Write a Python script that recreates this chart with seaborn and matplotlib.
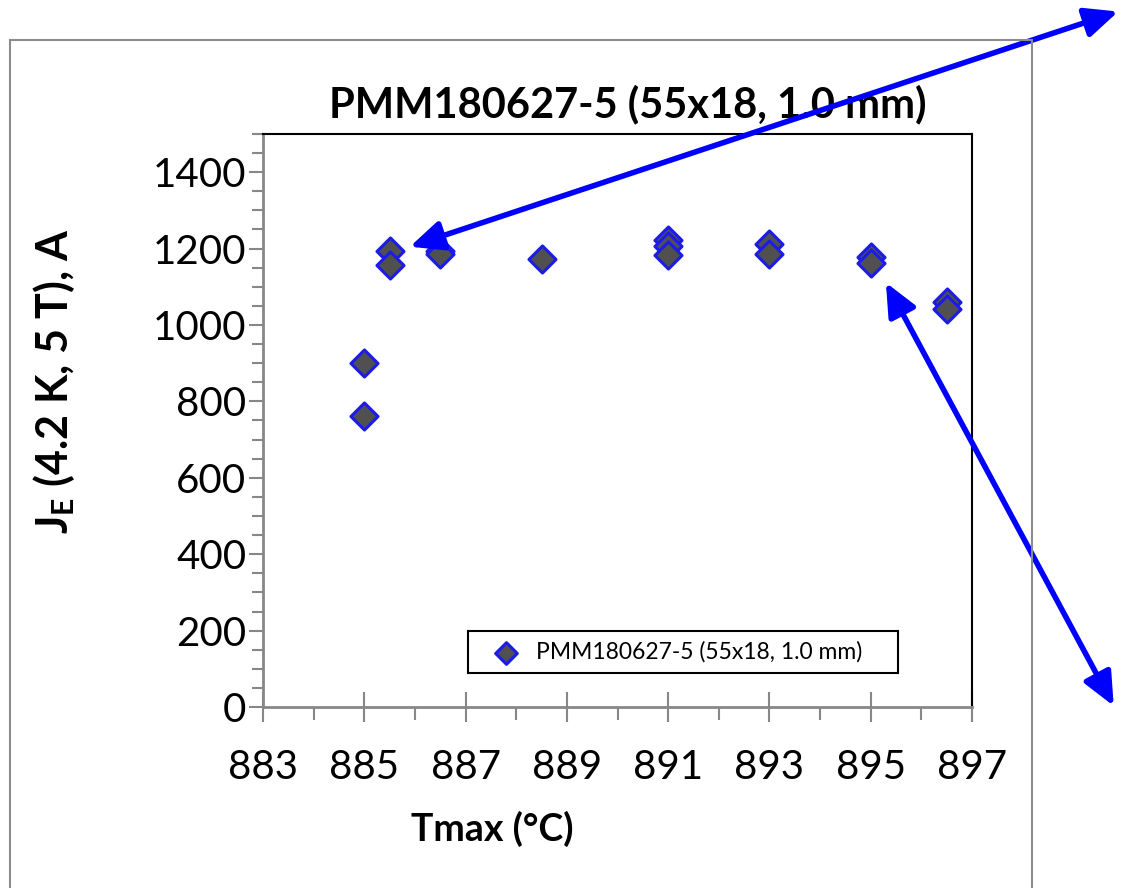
import matplotlib
matplotlib.use('Agg')
import matplotlib.pyplot as plt
import seaborn as sns
import pandas as pd
from matplotlib.ticker import MultipleLocator
from matplotlib.patches import Rectangle

# ---- data ----
tmax = [885, 885, 885.5, 885.5, 886.5, 886.5, 888.5, 891, 891, 891, 893, 893, 895, 895, 896.5, 896.5]
je = [901, 762, 1193, 1156, 1195, 1187, 1172, 1222, 1207, 1183, 1213, 1186, 1178, 1162, 1059, 1042]
series_name = "PMM180627-5 (55x18, 1.0 mm)"
title_text = "PMM180627-5 (55x18, 1.0 mm)"
x_label = "Tmax (°C)"
y_label = r"J$_\mathbf{E}$ (4.2 K, 5 T), A"
x_ticks = [883, 885, 887, 889, 891, 893, 895, 897]
y_ticks = [0, 200, 400, 600, 800, 1000, 1200, 1400]

sns.set_theme(style='white')
plt.rcParams['font.family'] = ['Lato', 'DejaVu Sans']
plt.rcParams['mathtext.fontset'] = 'custom'
plt.rcParams['mathtext.bf'] = 'Lato:bold'
plt.rcParams['mathtext.rm'] = 'Lato'
plt.rcParams['text.color'] = 'black'
plt.rcParams['axes.labelcolor'] = 'black'
plt.rcParams['axes.titlecolor'] = 'black'

fig = plt.figure(figsize=(11.25, 8.88), dpi=100)
ax = fig.add_axes([263 / 1125, 1 - 707 / 888, (972 - 263) / 1125, (707 - 134) / 888])

df = pd.DataFrame({'Tmax': tmax, 'JE': je})
sns.scatterplot(data=df, x='Tmax', y='JE', marker='D', s=190, color='#505050',
                edgecolor='#1c1ce6', linewidth=2.2, label=series_name, ax=ax, zorder=3)

ax.set_xlim(883, 897)
ax.set_ylim(0, 1500)
ax.set_xticks(x_ticks)
ax.set_yticks(y_ticks)
ax.xaxis.set_minor_locator(MultipleLocator(1))
ax.yaxis.set_minor_locator(MultipleLocator(50))

gray = '#878787'
ax.tick_params(axis='x', which='major', direction='inout', length=22, width=1.5,
               color=gray, labelcolor='black', labelsize=29, pad=19, bottom=True)
ax.tick_params(axis='x', which='minor', direction='out', length=9, width=1.5,
               color=gray, bottom=True)
ax.tick_params(axis='y', which='major', direction='out', length=10, width=1.5,
               color=gray, labelcolor='black', labelsize=29, pad=2, left=True)
ax.tick_params(axis='y', which='minor', direction='out', length=8, width=1.5,
               color=gray, left=True)

for side in ['left', 'bottom']:
    ax.spines[side].set_color(gray)
    ax.spines[side].set_linewidth(2)
for side in ['top', 'right']:
    ax.spines[side].set_color('black')
    ax.spines[side].set_linewidth(1.5)
for side in ax.spines:
    ax.spines[side].set_zorder(4)

ax.set_title(title_text, fontsize=30, fontweight='bold', pad=12, x=0.514, color='black')
ax.set_xlabel(x_label, fontsize=27, fontweight='bold', color='black')
ax.xaxis.set_label_coords(0.324, -0.182)
ax.set_ylabel(y_label, fontsize=31, fontweight='bold', color='black')
ax.yaxis.set_label_coords(-0.262, 0.569)

leg = ax.legend(loc='lower left', bbox_to_anchor=(0.289, 0.059, 0.607, 0.081),
                mode='expand', frameon=True, fancybox=False, edgecolor='black',
                fontsize=16.5, handletextpad=0.1, borderpad=0.45, borderaxespad=0,
                markerscale=0.8, handlelength=2.4)
leg.get_frame().set_linewidth(1.5)
leg.get_frame().set_facecolor('white')
leg.get_frame().set_alpha(1)
for t in leg.get_texts():
    t.set_color('black')

# figure border
fig.patches.append(Rectangle((10 / 1125, -0.01), (1032 - 10) / 1125, 0.965,
                             transform=fig.transFigure, fill=False,
                             edgecolor='#8c8c8c', lw=1.5, zorder=0))

# double-headed annotation arrows
arrow_kw = dict(arrowstyle='<|-|>,head_length=1.0,head_width=0.45', color='#0000ff',
                lw=4, mutation_scale=20, shrinkA=0, shrinkB=0)
ax.annotate('', xy=(885.9, 1205), xycoords='data', xytext=(0.994, 0.987),
            textcoords='figure fraction', arrowprops=arrow_kw,
            annotation_clip=False, zorder=10)
ax.annotate('', xy=(895.3, 1111), xycoords='data', xytext=(0.99, 0.205),
            textcoords='figure fraction', arrowprops=arrow_kw,
            annotation_clip=False, zorder=10)

fig.savefig('out.png', dpi=100)
